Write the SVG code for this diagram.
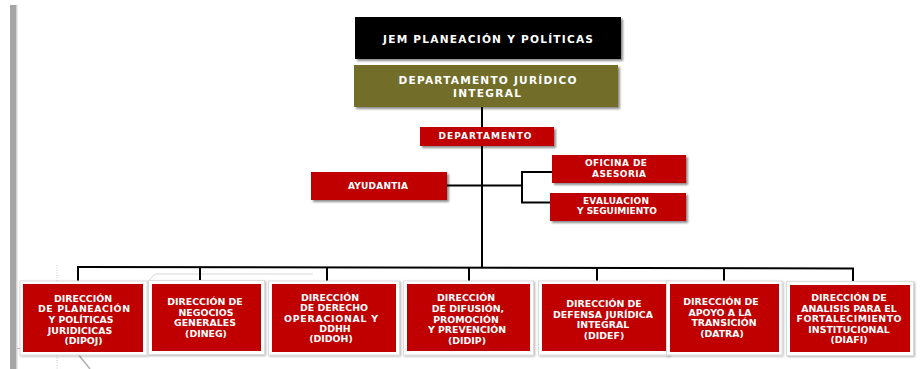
<svg xmlns="http://www.w3.org/2000/svg" width="920" height="369" viewBox="0 0 920 369">
<defs>
<filter id="sh" x="-10%" y="-20%" width="130%" height="150%">
<feGaussianBlur in="SourceAlpha" stdDeviation="1"/>
<feOffset dx="1.5" dy="1.5" result="o"/>
<feComponentTransfer><feFuncA type="linear" slope="0.45"/></feComponentTransfer>
<feMerge><feMergeNode/><feMergeNode in="SourceGraphic"/></feMerge>
</filter>
<filter id="cs" x="-10%" y="-10%" width="130%" height="130%">
<feGaussianBlur in="SourceAlpha" stdDeviation="1.2"/>
<feOffset dx="0.5" dy="1" result="o"/>
<feComponentTransfer><feFuncA type="linear" slope="0.3"/></feComponentTransfer>
<feMerge><feMergeNode/><feMergeNode in="SourceGraphic"/></feMerge>
</filter>
</defs>
<style>
.t{font-family:"DejaVu Sans","Verdana",sans-serif;font-weight:bold;fill:#fff;text-anchor:middle}
.top{font-size:10.6px}
.sm{font-size:9px}
.bt{font-size:9.4px}
.red{fill:#c00000}
.card{fill:#fff;stroke:#dcdcdc;stroke-width:1}
.ln{stroke:#000;stroke-width:2;fill:none}
.faint{stroke:#d8d8d8;stroke-width:1;fill:none}
</style>
<rect width="920" height="369" fill="#fff"/>
<rect x="10" y="5" width="6" height="364" fill="#a6a6a6"/>
<rect x="16" y="5" width="1.5" height="364" fill="#d4d4d4"/>
<g id="artifacts">
<line x1="57" y1="265" x2="57" y2="282" stroke="#c8c8c8" stroke-width="1" stroke-dasharray="1,1.5"/>
<line x1="57" y1="355" x2="57" y2="369" stroke="#c8c8c8" stroke-width="1" stroke-dasharray="1,1.5"/>
<line x1="78" y1="354" x2="90" y2="369" stroke="#b0b0b0" stroke-width="1.5"/>
<polyline class="faint" points="147,283 155,274 313,274"/>
<line x1="17" y1="348.5" x2="22" y2="348.5" stroke="#bbb" stroke-width="1"/>
</g>
<g id="connectors">
<line class="ln" x1="482" y1="107" x2="482" y2="268"/>
<line class="ln" x1="447" y1="185.5" x2="522" y2="185.5"/>
<polyline class="ln" points="552,172 522,172 522,202.5 550,202.5"/>
<line class="ln" x1="77" y1="267" x2="854" y2="268.5"/>
<line class="ln" x1="78" y1="267" x2="78" y2="283"/>
<line class="ln" x1="200" y1="267" x2="200" y2="283"/>
<line class="ln" x1="327" y1="267.5" x2="327" y2="283"/>
<line class="ln" x1="469" y1="268" x2="469" y2="283"/>
<line class="ln" x1="597" y1="268" x2="597" y2="283"/>
<line class="ln" x1="724" y1="268" x2="724" y2="283"/>
<line class="ln" x1="853" y1="268.5" x2="853" y2="284"/>
</g>
<g id="jem">
<rect x="355" y="17" width="266" height="42" fill="#000" filter="url(#sh)"/>
<text class="t top" x="488" y="43" textLength="210" lengthAdjust="spacing">JEM PLANEACIÓN Y POLÍTICAS</text>
</g>
<g id="dji">
<rect x="354" y="65" width="264" height="42" fill="#726e2b" filter="url(#sh)"/>
<text class="t top" x="487.5" y="84" textLength="178" lengthAdjust="spacing">DEPARTAMENTO JURÍDICO</text>
<text class="t top" x="487" y="97" textLength="68" lengthAdjust="spacing">INTEGRAL</text>
</g>
<g id="departamento">
<rect class="red" x="420" y="127" width="134" height="19" filter="url(#sh)"/>
<text class="t sm" x="485" y="139" textLength="93" lengthAdjust="spacing">DEPARTAMENTO</text>
</g>
<g id="ayudantia">
<rect class="red" x="311" y="172" width="136" height="28" filter="url(#sh)"/>
<text class="t sm" x="378" y="188.5" textLength="60" lengthAdjust="spacing">AYUDANTIA</text>
</g>
<g id="oficina">
<rect class="red" x="552" y="155" width="134" height="28" filter="url(#sh)"/>
<text class="t sm" x="616" y="166" textLength="62" lengthAdjust="spacing">OFICINA DE</text>
<text class="t sm" x="619" y="177" textLength="54" lengthAdjust="spacing">ASESORIA</text>
</g>
<g id="evaluacion">
<rect class="red" x="550" y="193" width="136" height="28" filter="url(#sh)"/>
<text class="t sm" x="616" y="204.3" textLength="66" lengthAdjust="spacing">EVALUACION</text>
<text class="t sm" x="617" y="214.3" textLength="80" lengthAdjust="spacing">Y SEGUIMIENTO</text>
</g>
<g id="dipoj">
<rect class="card" x="20" y="281" width="127" height="74" filter="url(#cs)"/>
<rect class="red" x="23" y="284" width="120" height="68"/>
<text class="t bt" x="83" y="301.7">DIRECCIÓN</text>
<text class="t bt" x="84" y="312.3" textLength="92" lengthAdjust="spacing">DE PLANEACIÓN</text>
<text class="t bt" x="81" y="322.9">Y POLÍTICAS</text>
<text class="t bt" x="80" y="333.5">JURIDICICAS</text>
<text class="t bt" x="83.5" y="344.1">(DIPOJ)</text>
</g>
<g id="dineg">
<rect class="card" x="148.5" y="280.5" width="116" height="74" filter="url(#cs)"/>
<rect class="red" x="152" y="284" width="109" height="67"/>
<text class="t bt" x="205" y="305">DIRECCIÓN  DE</text>
<text class="t bt" x="206" y="315.6">NEGOCIOS</text>
<text class="t bt" x="205" y="326">GENERALES</text>
<text class="t bt" x="206" y="336.6">(DINEG)</text>
</g>
<g id="didoh">
<rect class="card" x="268.5" y="281" width="131" height="74" filter="url(#cs)"/>
<rect class="red" x="272" y="284" width="124" height="68"/>
<text class="t bt" x="330" y="301">DIRECCIÓN</text>
<text class="t bt" x="334" y="311.3">DE DERECHO</text>
<text class="t bt" x="331" y="321.6" textLength="94" lengthAdjust="spacing">OPERACIONAL  Y</text>
<text class="t bt" x="335" y="332">DDHH</text>
<text class="t bt" x="331" y="342.3">(DIDOH)</text>
</g>
<g id="didip">
<rect class="card" x="403.5" y="281" width="130" height="74" filter="url(#cs)"/>
<rect class="red" x="407" y="284" width="123" height="67"/>
<text class="t bt" x="466" y="301.4">DIRECCIÓN</text>
<text class="t bt" x="468" y="312">DE DIFUSIÓN,</text>
<text class="t bt" x="466" y="322.6">PROMOCIÓN</text>
<text class="t bt" x="467" y="333.2">Y PREVENCIÓN</text>
<text class="t bt" x="467" y="343.8">(DIDIP)</text>
</g>
<g id="didef">
<rect class="card" x="538.5" y="281" width="131" height="74" filter="url(#cs)"/>
<rect class="red" x="542" y="284" width="124" height="67"/>
<text class="t bt" x="604" y="306.8">DIRECCIÓN  DE</text>
<text class="t bt" x="603" y="317.5" textLength="100" lengthAdjust="spacing">DEFENSA JURÍDICA</text>
<text class="t bt" x="603" y="328.2">INTEGRAL</text>
<text class="t bt" x="604" y="338.9">(DIDEF)</text>
</g>
<g id="datra">
<rect class="card" x="666.5" y="281" width="115.5" height="74" filter="url(#cs)"/>
<rect class="red" x="670" y="284" width="109" height="68"/>
<text class="t bt" x="721" y="305">DIRECCIÓN DE</text>
<text class="t bt" x="720" y="315.7">APOYO  A LA</text>
<text class="t bt" x="724" y="326.4">TRANSICIÓN</text>
<text class="t bt" x="722" y="337.4">(DATRA)</text>
</g>
<g id="diafi">
<rect class="card" x="786.5" y="281.5" width="127" height="74" filter="url(#cs)"/>
<rect class="red" x="790" y="285" width="120" height="67"/>
<text class="t bt" x="849" y="301.1">DIRECCIÓN DE</text>
<text class="t bt" x="849" y="311.5">ANALISIS PARA EL</text>
<text class="t bt" x="849" y="322" textLength="105" lengthAdjust="spacing">FORTALECIMIENTO</text>
<text class="t bt" x="849" y="332.6">INSTITUCIONAL</text>
<text class="t bt" x="849" y="343.2">(DIAFI)</text>
</g>
</svg>
